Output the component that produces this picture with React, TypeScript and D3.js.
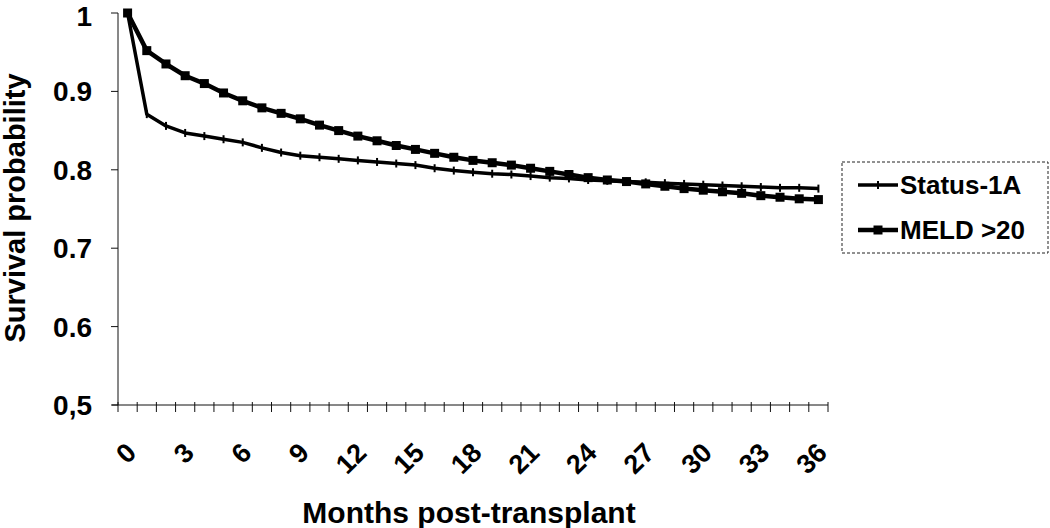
import { line, range, scaleLinear, scalePoint } from "d3";

const WIDTH = 1050;
const HEIGHT = 528;
const PLOT = { left: 118, right: 828, top: 13, bottom: 405 };
const FONT = "'Liberation Sans', Arial, sans-serif";

const MONTHS = range(0, 37);
const X_LABELS = [0, 3, 6, 9, 12, 15, 18, 21, 24, 27, 30, 33, 36];
const Y_TICKS = [1, 0.9, 0.8, 0.7, 0.6, 0.5];
const Y_TICK_LABELS = ["1", "0.9", "0.8", "0.7", "0.6", "0,5"];

const STATUS_1A = [
  1.0, 0.871, 0.856, 0.847, 0.843, 0.839, 0.835, 0.828, 0.822, 0.818, 0.816, 0.814, 0.812,
  0.81, 0.808, 0.806, 0.802, 0.799, 0.797, 0.795, 0.794, 0.792, 0.79, 0.789, 0.787, 0.786,
  0.785, 0.784, 0.783, 0.782, 0.781, 0.78, 0.779, 0.778, 0.777, 0.777, 0.776,
];
const MELD_20 = [
  1.0, 0.952, 0.935, 0.92, 0.91, 0.898, 0.888, 0.879, 0.872, 0.865, 0.857, 0.85, 0.843,
  0.837, 0.831, 0.826, 0.821, 0.816, 0.812, 0.809, 0.806, 0.802, 0.798, 0.794, 0.79, 0.787,
  0.785, 0.782, 0.779, 0.776, 0.774, 0.772, 0.77, 0.767, 0.765, 0.763, 0.762,
];

export default function App() {
  const x = scalePoint<number>()
    .domain(MONTHS)
    .range([PLOT.left, PLOT.right])
    .padding(0.5);
  const step = x.step();
  const y = scaleLinear().domain([0.5, 1]).range([PLOT.bottom, PLOT.top]);

  const path = line<number>()
    .x((_, i) => x(MONTHS[i]) ?? 0)
    .y((d) => y(d));

  const boundaries = range(0, MONTHS.length + 1).map(
    (i) => PLOT.left + i * step
  );

  return (
    <svg
      width={WIDTH}
      height={HEIGHT}
      viewBox={`0 0 ${WIDTH} ${HEIGHT}`}
      style={{ position: "absolute", left: 0, top: 0, background: "#fff" }}
      fontFamily={FONT}
      fontWeight="bold"
    >
      {/* axes */}
      <line x1={PLOT.left} x2={PLOT.left} y1={PLOT.top} y2={PLOT.bottom} stroke="#111" strokeWidth={1} />
      <line x1={PLOT.left - 6} x2={PLOT.right} y1={PLOT.bottom} y2={PLOT.bottom} stroke="#111" strokeWidth={1} />
      {Y_TICKS.map((t, i) => (
        <g key={t}>
          <line x1={PLOT.left - 7} x2={PLOT.left} y1={y(t)} y2={y(t)} stroke="#111" />
          {/* baseline kept low enough that the top label stays inside the picture */}
          <text x={92} y={Math.max(y(t) + 10, 26)} textAnchor="end" fontSize={28}>
            {Y_TICK_LABELS[i]}
          </text>
        </g>
      ))}
      {boundaries.map((bx) => (
        <line key={bx} x1={bx} x2={bx} y1={PLOT.bottom - 3} y2={PLOT.bottom + 7} stroke="#111" />
      ))}
      {X_LABELS.map((m) => {
        const cx = (x(m) ?? 0) - 3;
        const cy = 441;
        return (
          <text
            key={m}
            x={cx}
            y={cy}
            textAnchor="end"
            dy="0.7em"
            fontSize={27}
            transform={`rotate(-45 ${cx} ${cy})`}
          >
            {m}
          </text>
        );
      })}

      {/* titles */}
      <text x={469} y={523} textAnchor="middle" fontSize={30}>
        Months post-transplant
      </text>
      <text
        x={0}
        y={0}
        textAnchor="middle"
        fontSize={29}
        transform={`translate(25 208) rotate(-90)`}
      >
        Survival probability
      </text>

      {/* series */}
      <path d={path(STATUS_1A) ?? ""} fill="none" stroke="#000" strokeWidth={3.5} strokeLinejoin="round" />
      {STATUS_1A.map((v, i) => (
        <line
          key={`s${i}`}
          x1={x(MONTHS[i])}
          x2={x(MONTHS[i])}
          y1={y(v) - 4}
          y2={y(v) + 4}
          stroke="#000"
          strokeWidth={2}
        />
      ))}
      <path d={path(MELD_20) ?? ""} fill="none" stroke="#000" strokeWidth={4.5} strokeLinejoin="round" />
      {MELD_20.map((v, i) => (
        <rect
          key={`m${i}`}
          x={(x(MONTHS[i]) ?? 0) - 4.5}
          y={y(v) - 4.5}
          width={9}
          height={9}
          fill="#000"
        />
      ))}

      {/* legend */}
      <rect x={842} y={162} width={206} height={91} fill="#fff" stroke="#222" strokeDasharray="3 2" />
      <line x1={858} x2={898} y1={185} y2={185} stroke="#000" strokeWidth={3.5} />
      <line x1={878} x2={878} y1={181} y2={189} stroke="#000" strokeWidth={2} />
      <text x={900} y={185} dy="0.36em" fontSize={26}>Status-1A</text>
      <line x1={858} x2={898} y1={230} y2={230} stroke="#000" strokeWidth={4.5} />
      <rect x={873.5} y={225.5} width={9} height={9} fill="#000" />
      <text x={900} y={230} dy="0.36em" fontSize={26}>MELD &gt;20</text>
    </svg>
  );
}
